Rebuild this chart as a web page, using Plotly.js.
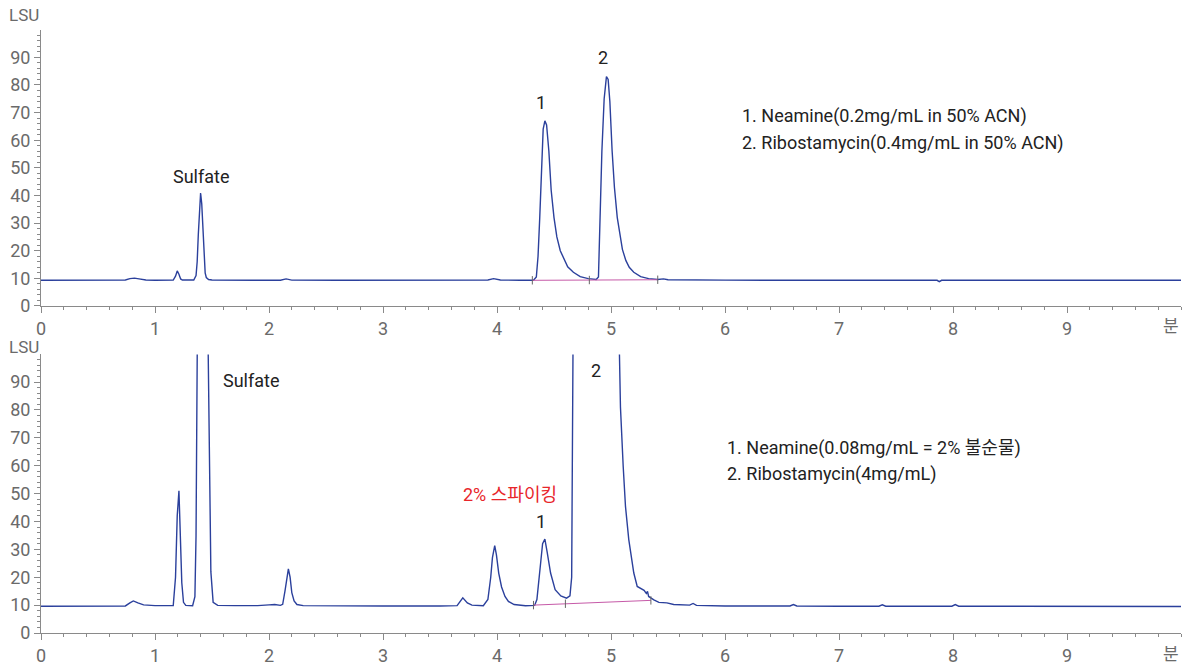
<!DOCTYPE html>
<html>
<head>
<meta charset="utf-8">
<script src="https://cdn.plot.ly/plotly-3.0.1.min.js"></script>
<style>html,body{margin:0;padding:0;background:#fff;}#chart{width:1182px;height:666px;}</style>
</head>
<body>
<div id="chart"></div>
<script>
// ---- Data (time in 분, signal in LSU) ----
const topTime = [0,0.3,0.6,0.74,0.78,0.82,0.86,0.92,1.0,1.1,1.16,1.18,1.195,1.21,1.225,1.24,1.3,1.34,1.36,1.37,1.38,1.39,1.40,1.41,1.42,1.43,1.44,1.45,1.47,1.5,1.8,2.1,2.15,2.2,2.6,3.0,3.5,3.92,3.97,4.03,4.2,4.32,4.345,4.36,4.375,4.39,4.405,4.42,4.435,4.455,4.475,4.5,4.525,4.555,4.59,4.62,4.67,4.73,4.8,4.87,4.89,4.905,4.92,4.94,4.96,4.975,4.99,5.01,5.03,5.055,5.08,5.1,5.13,5.16,5.2,5.26,5.33,5.41,5.46,5.5,6.0,6.5,7.0,7.5,7.86,7.88,7.9,8.5,9.0,9.5,10];
const topLSU  = [9.3,9.3,9.35,9.4,9.9,10.1,9.8,9.4,9.3,9.3,9.4,10.8,12.7,11.5,9.8,9.4,9.3,9.4,11,16,26,36,40.9,37,27,17,12,10.3,9.6,9.4,9.3,9.3,9.8,9.35,9.3,9.3,9.3,9.4,9.9,9.4,9.3,9.3,10.5,18,32,52,64,67,65.5,56,42,32,25,20,16.5,14.2,12.2,10.6,9.9,9.6,10.5,32,56,75,83,82,74,56,43,32,25,20.5,16.5,14,12.2,10.6,9.9,9.6,9.8,9.5,9.35,9.3,9.3,9.3,9.3,8.8,9.3,9.3,9.3,9.3,9.3];

const bottomTime = [0,0.4,0.74,0.78,0.81,0.85,0.9,1.0,1.1,1.16,1.18,1.195,1.21,1.22,1.235,1.25,1.27,1.33,1.35,1.36,1.37,1.38,1.40,1.42,1.44,1.46,1.475,1.49,1.51,1.55,1.7,1.9,2.0,2.05,2.1,2.12,2.14,2.16,2.17,2.185,2.2,2.22,2.245,2.3,2.5,3.0,3.5,3.65,3.70,3.74,3.78,3.88,3.92,3.945,3.96,3.98,3.995,4.015,4.04,4.07,4.1,4.15,4.25,4.33,4.35,4.37,4.385,4.4,4.42,4.44,4.47,4.51,4.56,4.61,4.64,4.655,4.665,4.675,4.72,4.85,4.98,5.04,5.077,5.083,5.107,5.127,5.156,5.2,5.23,5.26,5.29,5.31,5.32,5.33,5.35,5.376,5.42,5.49,5.55,5.67,5.69,5.72,5.75,6.0,6.3,6.57,6.6,6.63,7.0,7.35,7.38,7.41,7.99,8.02,8.05,9.0,10];
const bottomLSU  = [9.6,9.6,9.7,10.8,11.5,10.8,10.1,9.8,9.7,9.8,20,42,51,38,18,11,9.9,9.8,13,35,90,160,230,240,190,120,60,22,11,9.9,9.8,9.8,10.1,10.2,9.9,10.3,15,21.5,23,20,14.5,11.5,10.2,9.8,9.7,9.7,9.7,9.8,12.6,10.8,10,9.8,12,20,27,31.3,28,21.5,16.5,13.1,11.3,10.2,9.8,9.9,12,19,26,32,33.7,29,21.5,15.5,13.3,12.5,13.3,20,80,160,300,400,300,180,100,81,59.7,45.4,33.5,21.5,16.7,16,15.3,14.2,14.9,13.1,12.5,11.9,11,10.8,10.2,10,10,10.6,9.9,9.7,9.7,9.7,10.2,9.7,9.6,9.6,10.1,9.6,9.6,10.2,9.6,9.5,9.5];

// Integration baselines and boundary markers
const topBaseTime = [4.31, 4.81, 5.41];
const topBaseLSU  = [9.3, 9.4, 9.5];
const bottomBaseTime = [4.32, 4.60, 5.35];
const bottomBaseLSU  = [10.0, 10.5, 11.7];

// Labels
const xTicks = [0,1,2,3,4,5,6,7,8,9];
const xUnit = "분";
const yUnit = "LSU";
const topLegend = ["1. Neamine(0.2mg/mL in 50% ACN)", "2. Ribostamycin(0.4mg/mL in 50% ACN)"];
const bottomLegend = ["1. Neamine(0.08mg/mL = 2% 불순물)", "2. Ribostamycin(4mg/mL)"];

const FONT = "Roboto, 'Noto Sans CJK KR', sans-serif";
const LINE = "#2b409c";
const BASE = "#c65aa8";
const AXC = "#8a8a8a";
const TXT = "#6a6a6a";

const traces = [
  {x: topTime, y: topLSU, xaxis:'x', yaxis:'y', mode:'lines', line:{color:LINE, width:1.4}, hoverinfo:'skip'},
  {x: topBaseTime, y: topBaseLSU, xaxis:'x', yaxis:'y', mode:'lines+markers', line:{color:BASE, width:1},
   marker:{symbol:'line-ns-open', size:6, color:'#666', line:{width:1, color:'#666'}}, hoverinfo:'skip'},
  {x: bottomTime, y: bottomLSU, xaxis:'x2', yaxis:'y2', mode:'lines', line:{color:LINE, width:1.4}, hoverinfo:'skip'},
  {x: bottomBaseTime, y: bottomBaseLSU, xaxis:'x2', yaxis:'y2', mode:'lines+markers', line:{color:BASE, width:1},
   marker:{symbol:'line-ns-open', size:6, color:'#666', line:{width:1, color:'#666'}}, hoverinfo:'skip'}
];

function xa(anchor){
  return {anchor:anchor, range:[0,10], tickvals:xTicks, ticktext:xTicks.map(String),
    showline:true, linecolor:AXC, linewidth:1, ticks:'outside', ticklen:6, tickcolor:AXC, tickwidth:1,
    minor:{dtick:0.2, tick0:0, ticks:'outside', ticklen:3, tickcolor:AXC, tickwidth:1, showgrid:false},
    showgrid:false, zeroline:false, tickfont:{family:FONT, size:18, color:TXT}};
}
function ya(anchor, dom){
  return {anchor:anchor, domain:dom, range:[0,99.9], dtick:10, tick0:0,
    showline:true, linecolor:AXC, linewidth:1, ticks:'outside', ticklen:6, tickcolor:AXC, tickwidth:1,
    minor:{dtick:2, tick0:0, ticks:'outside', ticklen:3, tickcolor:AXC, tickwidth:1, showgrid:false},
    showgrid:false, zeroline:false, tickfont:{family:FONT, size:18, color:TXT}};
}

function ann(text, x, y, xr, yr, opts){
  return Object.assign({text:text, x:x, y:y, xref:xr, yref:yr, showarrow:false,
    font:{family:FONT, size:18, color:'#222'}, xanchor:'center', yanchor:'middle'}, opts||{});
}

const annotations = [
  ann(yUnit, -0.030, 1.025, 'paper', 'paper', {xanchor:'left', font:{family:FONT, size:17, color:TXT}}),
  ann(yUnit, -0.030, 0.474, 'paper', 'paper', {xanchor:'left', font:{family:FONT, size:17, color:TXT}}),
  ann(xUnit, 10, 0.509, 'x', 'paper', {xanchor:'right', font:{family:FONT, size:17, color:TXT}}),
  ann(xUnit, 10, -0.035, 'x2', 'paper', {xanchor:'right', font:{family:FONT, size:17, color:TXT}}),
  ann("Sulfate", 1.405, 46.7, 'x', 'y'),
  ann("1", 4.39, 73.5, 'x', 'y'),
  ann("2", 4.934, 89.8, 'x', 'y'),
  ann(topLegend[0], 6.128, 68.8, 'x', 'y', {xanchor:'left'}),
  ann(topLegend[1], 6.128, 59.0, 'x', 'y', {xanchor:'left'}),
  ann("Sulfate", 1.844, 90.5, 'x2', 'y2'),
  ann("2", 4.864, 94.1, 'x2', 'y2'),
  ann("1", 4.39, 39.9, 'x2', 'y2'),
  ann("2% 스파이킹", 4.118, 49.6, 'x2', 'y2', {font:{family:FONT, size:18, color:'#e8262b'}}),
  ann(bottomLegend[0], 5.997, 66.4, 'x2', 'y2', {xanchor:'left'}),
  ann(bottomLegend[1], 5.997, 57.1, 'x2', 'y2', {xanchor:'left'})
];

const layout = {
  width:1182, height:666,
  margin:{l:41, r:1, t:30, b:33},
  paper_bgcolor:'#fff', plot_bgcolor:'#fff',
  showlegend:false,
  xaxis: xa('y'),
  yaxis: ya('x', [0.5423, 1]),
  xaxis2: xa('y2'),
  yaxis2: ya('x2', [0, 0.462]),
  annotations: annotations,
  font:{family:FONT}
};

Plotly.newPlot('chart', traces, layout, {staticPlot:true, displayModeBar:false});
</script>
</body>
</html>
